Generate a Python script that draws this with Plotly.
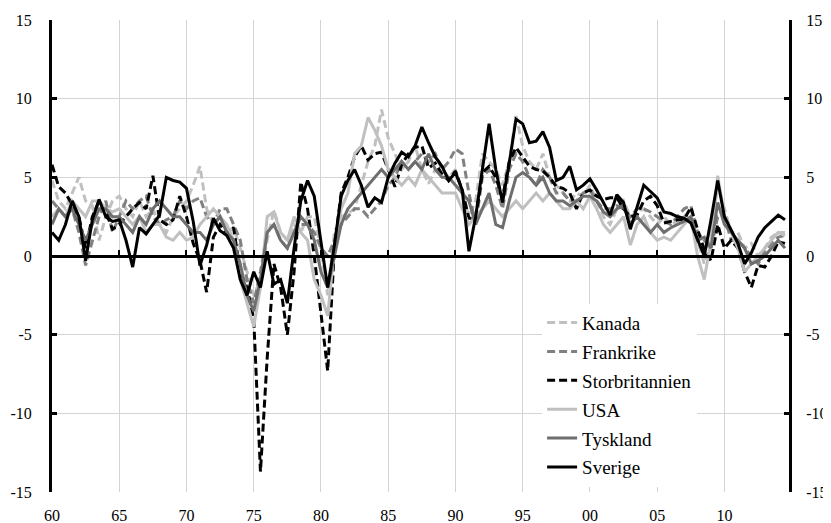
import plotly.graph_objects as go

# Half-year periods 1960.0 ... 2014.5
periods = [1960 + 0.5 * i for i in range(110)]

kanada = [4.8, 3.5, 3.0, 4.0, 5.0, 3.5, 3.2, 1.0, 2.5, 3.5,
          3.8, 3.0, 2.5, 3.5, 2.5, 3.0, 2.0, 1.5, 2.5, 3.0,
          3.5, 4.5, 5.7, 3.0, 2.0, 2.5, 1.5, 1.8, 0.5, -1.0,
          -2.5, -1.5, 1.0, 2.9, 1.5, 1.0, 2.0, 1.5, 2.5, 2.5,
          0.5, -2.5, 1.5, 2.5, 2.7, 3.0, 4.5, 6.0, 7.0, 9.3,
          7.5, 6.5, 5.5, 6.0, 7.0, 5.5, 4.6, 5.5, 5.5, 5.0,
          5.5, 4.0, 2.5, 3.5, 6.5, 6.0, 5.5, 4.5, 6.0, 8.9,
          7.0, 6.0, 5.5, 6.5, 5.0, 4.5, 4.0, 3.5, 4.0, 3.8,
          4.5, 3.5, 2.5, 2.0, 3.0, 3.5, 2.5, 2.8, 3.0, 2.5,
          2.0, 2.5, 2.0, 2.2, 2.5, 3.0, 1.0, -0.5, 1.5, 4.5,
          3.0, 1.5, 1.5, 0.5, 0.8, 0.0, 0.5, 1.2, 1.5, 1.5]

frankrike = [3.5, 3.0, 2.5, 3.0, 1.5, -0.6, 1.0, 2.5, 3.5, 1.5,
             2.5, 3.5, 3.0, 3.5, 3.8, 2.5, 2.0, 2.3, 2.5, 3.5,
             3.0, 3.5, 3.7, 2.5, 2.0, 3.0, 3.0, 2.0, 1.0, -1.5,
             -3.0, -1.0, 1.5, 2.0, 1.0, 0.5, 1.5, 2.0, 2.0, 1.5,
             0.5, 0.0, 1.0, 2.0, 2.5, 3.0, 3.0, 2.5, 3.0, 3.5,
             4.5, 5.0, 6.0, 5.5, 6.0, 6.5, 6.0, 6.5, 5.5, 6.0,
             6.8, 6.5, 4.0, 2.0, 5.0, 5.5, 4.5, 3.0, 5.5, 6.5,
             6.0, 5.0, 4.5, 5.5, 5.0, 4.0, 4.0, 3.5, 3.5, 4.0,
             4.2, 3.5, 3.0, 3.0, 3.2, 3.0, 2.5, 3.0, 3.0, 2.8,
             2.5, 2.2, 2.0, 2.5, 3.0, 3.2, 1.5, 1.0, 0.5, 2.5,
             2.5, 1.0, 1.0, 0.5, 0.0, -0.5, 0.3, 0.8, 1.2, 1.3]

storbritannien = [5.8, 4.4, 4.0, 3.2, 2.5, 0.5, 2.5, 3.5, 2.8, 1.7,
                  2.0, 2.5, 3.0, 3.4, 3.0, 5.1, 2.3, 2.0, 2.3, 3.8,
                  2.5, 0.8, -0.3, -2.3, 1.2, 2.0, 1.4, 1.8, -1.0, -2.0,
                  -4.0, -13.7, -6.5, -0.5, -2.0, -5.0, -1.0, 4.7, 3.0, 0.0,
                  -3.5, -7.3, 0.5, 4.0, 5.0, 6.3, 7.0, 6.1, 6.5, 6.6,
                  5.5, 4.4, 5.8, 6.5, 6.9, 7.0, 5.6, 5.9, 5.2, 4.8,
                  5.4, 4.2, 2.4, 2.4, 5.3, 5.7, 5.0, 3.7, 6.0, 6.9,
                  6.3, 5.7, 5.5, 5.4, 5.0, 4.4, 4.3, 4.0, 3.0, 4.0,
                  4.2, 3.8, 3.6, 3.7, 3.7, 3.0, 2.5, 2.6, 3.5, 3.8,
                  3.2, 2.1, 2.2, 2.3, 2.3, 3.1, 1.7, 0.4, -0.3, 2.0,
                  0.5, 1.0, 0.5, -1.0, -2.0, -0.6, -0.7, 0.0, 0.9, 0.8]

usa = [2.5, 3.0, 2.5, 3.5, 3.0, 2.5, 3.5, 3.5, 3.0, 2.8,
       3.0, 2.5, 2.0, 2.5, 1.5, 2.0, 2.0, 1.2, 1.0, 1.5,
       1.0, 1.2, 2.0, 2.5, 3.0, 2.5, 2.0, 1.0, -1.5, -3.0,
       -4.5, -2.0, 2.5, 2.8, 1.5, 1.0, 2.5, 1.5, 1.0, -1.5,
       -2.5, -3.8, 0.5, 3.0, 4.0, 6.5, 7.0, 8.8, 8.0, 7.0,
       5.5, 5.0, 4.5, 5.0, 4.5, 5.5, 5.0, 4.5, 4.0, 4.0,
       4.0, 3.0, 2.0, 2.5, 3.0, 3.5, 3.0, 2.5, 3.0, 3.5,
       3.0, 3.5, 4.0, 3.5, 4.0, 3.5, 3.0, 3.0, 3.5, 3.0,
       3.8, 3.0, 2.0, 1.5, 2.0, 2.5, 0.7, 2.0, 2.5, 1.5,
       1.0, 1.2, 1.0, 1.5, 2.0, 2.5, 0.0, -1.5, 1.0, 5.1,
       2.5, 1.5, 0.5, -1.0, -0.5, 0.0, 0.5, 1.0, 1.5, 1.3]

tyskland = [2.0, 3.0, 2.5, 3.0, 2.0, 1.0, 2.0, 3.0, 3.0, 2.5,
            2.5, 2.0, 1.5, 2.5, 2.0, 3.0, 3.5, 3.0, 2.5, 2.5,
            2.0, 1.5, 1.5, 1.0, 2.0, 2.5, 1.5, 1.0, -0.5, -2.5,
            -3.5, -1.5, 1.5, 2.0, 1.0, 0.5, 1.5, 2.5, 2.0, 1.0,
            -1.0, -2.0, 0.0, 2.0, 3.0, 3.5, 4.0, 4.5, 5.0, 5.5,
            5.0, 5.5, 6.0, 5.5, 6.0, 5.5, 6.5, 5.5, 5.0, 5.0,
            4.5, 4.0, 3.5, 2.0, 3.0, 4.0, 2.0, 1.8, 3.5, 5.0,
            5.3, 5.0, 4.5, 5.0, 4.0, 3.5, 3.5, 3.2, 3.5, 3.8,
            3.8, 3.5, 2.8, 2.5, 3.0, 3.2, 2.0, 2.5, 2.0, 1.5,
            2.0, 1.5, 1.8, 2.0, 2.2, 2.5, 1.0, 1.2, 0.5, 3.4,
            2.0, 1.5, 1.0, 0.5, -0.5, -0.3, 0.0, 0.5, 1.0, 0.5]

sverige = [1.5, 1.0, 2.0, 3.5, 2.5, -0.3, 2.3, 3.6, 2.5, 2.2,
           2.3, 1.0, -0.7, 1.8, 1.4, 2.0, 2.6, 5.0, 4.8, 4.7,
           4.3, 2.2, -0.6, 0.7, 2.4, 1.6, 1.3, 0.5, -1.5, -2.5,
           -1.0, -2.0, 0.3, -1.8, -1.5, -3.0, 0.5, 3.5, 4.8, 3.8,
           1.0, -2.0, 0.7, 3.8, 4.8, 5.5, 4.5, 3.1, 3.7, 3.4,
           5.0, 5.9, 6.6, 6.3, 7.0, 8.2, 7.2, 6.3, 5.7, 4.8,
           5.3, 4.2, 0.3, 2.5, 5.5, 8.4, 5.5, 3.4, 5.9, 8.7,
           8.4, 7.2, 7.3, 7.9, 6.9, 4.8, 5.0, 5.7, 4.2, 4.5,
           4.9, 4.2, 3.4, 2.6, 3.9, 3.4, 1.7, 3.1, 4.5, 4.1,
           3.7, 2.8, 2.7, 2.5, 2.4, 2.1, 1.0, 0.0, 2.3, 4.8,
           2.5, 1.6, 0.8, -0.5, 0.2, 1.2, 1.8, 2.2, 2.6, 2.3]

x_tickvals = [1960, 1965, 1970, 1975, 1980, 1985, 1990, 1995, 2000, 2005, 2010]
x_ticktext = ["60", "65", "70", "75", "80", "85", "90", "95", "00", "05", "10"]
y_tickvals = [-15, -10, -5, 0, 5, 10, 15]
y_ticktext = ["-15", "-10", "-5", "0", "5", "10", "15"]
x_range = [1960, 2014.8]
y_range = [-15, 15]

series = [
    ("Kanada", kanada, "#c0c0c0", "8px,4px"),
    ("Frankrike", frankrike, "#808080", "8px,4px"),
    ("Storbritannien", storbritannien, "#000000", "8px,4px"),
    ("USA", usa, "#c0c0c0", "solid"),
    ("Tyskland", tyskland, "#6e6e6e", "solid"),
    ("Sverige", sverige, "#000000", "solid"),
]

FONT = "Liberation Serif"

fig = go.Figure()
for name, vals, col, dash in series:
    fig.add_trace(go.Scatter(
        x=periods, y=vals, mode="lines", name=name, legendgroup=name,
        line=dict(color=col, width=3, dash=dash),
    ))

# helper trace so the secondary axes (zero line axis, right axis) are drawn
fig.add_trace(go.Scatter(x=[], y=[], xaxis="x2", yaxis="y2",
                         showlegend=False, hoverinfo="skip"))

# page body has an 8px margin, so the figure is sized/offset for that
fig.update_layout(
    width=823, height=515,
    margin=dict(l=44, r=42, t=12, b=31, autoexpand=False),
    paper_bgcolor="white", plot_bgcolor="white",
    font=dict(family=FONT, size=16, color="black"),
    showlegend=True,
    legend=dict(
        x=0.665, y=0.399, xanchor="left", yanchor="top",
        bgcolor="white", borderwidth=0,
        font=dict(family=FONT, size=19, color="black"),
        itemwidth=30, tracegroupgap=1.2,
    ),
    xaxis=dict(
        range=x_range, tickvals=x_tickvals, ticktext=x_ticktext,
        showgrid=True, gridcolor="#d4d4d4", gridwidth=1,
        zeroline=False, showline=False, ticks="", automargin=False,
        ticklabelstandoff=12,
    ),
    xaxis2=dict(
        range=x_range, tickvals=x_tickvals, overlaying="x",
        anchor="free", position=0.5, side="bottom", automargin=False,
        showgrid=False, zeroline=False, showticklabels=False,
        showline=True, linecolor="black", linewidth=3,
        ticks="inside", ticklen=5, tickwidth=2, tickcolor="black",
    ),
    yaxis=dict(
        range=y_range, tickvals=y_tickvals, ticktext=y_ticktext,
        automargin=False,
        showgrid=True, gridcolor="#d4d4d4", gridwidth=1,
        zeroline=False, showline=True, linecolor="black", linewidth=3,
        ticks="inside", ticklen=5, tickwidth=3, tickcolor="black",
        ticklabelstandoff=14,
    ),
    yaxis2=dict(
        range=y_range, tickvals=y_tickvals, ticktext=y_ticktext,
        overlaying="y", side="right", anchor="x2", automargin=False,
        showgrid=False, zeroline=False, showline=True, linecolor="black",
        linewidth=3, ticks="inside", ticklen=5, tickwidth=3,
        tickcolor="black", ticklabelstandoff=11,
    ),
)

fig.write_html("out.html")
